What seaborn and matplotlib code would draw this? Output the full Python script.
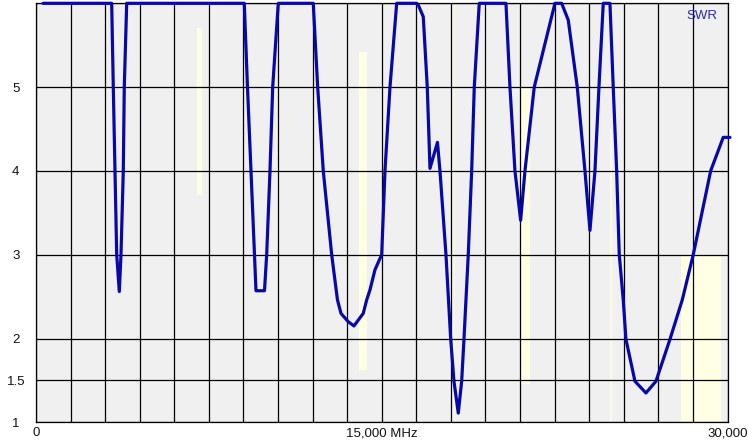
import numpy as np
import pandas as pd
import matplotlib
matplotlib.use('Agg')
import matplotlib.pyplot as plt
import seaborn as sns

# SWR sweep (kHz, SWR); values above 6 are pinned to the top
freq = [304, 3284, 3353, 3427, 3501, 3614, 3687, 3787, 3830, 3935,
        9036, 9175, 9327, 9479, 9544, 9913, 10008, 10151, 10268, 10511,
        12029, 12220, 12463, 12828, 13079, 13231, 13548, 13795, 14198, 14346,
        14489, 14706, 14997, 15140, 15357, 15648, 16515, 16584, 16801, 16975,
        17092, 17417, 17526, 17786, 17990, 18133, 18320, 18467, 18567, 18753,
        18901, 19014, 19230, 20389, 20562, 20779, 21026, 21213, 21616, 22514,
        22805, 23091, 23482, 23816, 24033, 24250, 24423, 24610, 24900, 25043,
        25191, 25304, 25477, 25594, 25985, 26462, 26896, 27503, 28037, 28514,
        29269, 29815, 30106]
swr = [6.0, 6.0, 5.0, 4.0, 3.0, 2.56, 3.0, 4.0, 5.0, 6.0,
       6.0, 5.0, 4.0, 3.0, 2.57, 2.57, 3.0, 4.0, 5.0, 6.0,
       6.0, 5.0, 4.0, 3.0, 2.46, 2.30, 2.20, 2.15, 2.30, 2.46,
       2.58, 2.82, 3.0, 4.0, 5.0, 6.0, 6.0, 5.98, 5.84, 5.0,
       4.03, 4.34, 4.0, 3.0, 2.0, 1.49, 1.11, 1.49, 1.99, 3.0,
       4.0, 5.0, 6.0, 6.0, 5.0, 4.0, 3.41, 4.0, 5.0, 6.0,
       6.0, 5.8, 5.0, 4.0, 3.29, 4.0, 5.0, 6.0, 6.0, 5.0,
       4.0, 3.0, 2.46, 1.99, 1.49, 1.35, 1.49, 1.99, 2.46, 3.0,
       4.0, 4.40, 4.40]

# ham band markers (kHz start/end, SWR low/high)
band_start = [7000, 14000, 18068, 21000, 24890, 28000]
band_end = [7200, 14350, 18168, 21450, 24990, 29700]
band_lo = [3.71, 1.62, 1.0, 1.46, 1.0, 1.0]
band_hi = [5.70, 5.42, 6.0, 4.99, 4.5, 3.0]
band_col = ['#ffffe4', '#ffffe4', '#f6f6e8', '#ffffe4', '#fbfbe6', '#ffffe4']

xticks = np.arange(0, 30001, 1500)
xlabels = {0: '0', 15000: '15,000 MHz', 30000: '30,000'}
yticks = [1, 1.5, 2, 3, 4, 5, 6]
ylabels = ['1', '1.5', '2', '3', '4', '5', '']

df = pd.DataFrame({'freq': freq, 'swr': swr})

sns.set_theme(style='white')
plt.rcParams['font.family'] = ['Liberation Sans', 'DejaVu Sans']

fig = plt.figure(figsize=(7.48, 4.43), dpi=100)
ax = fig.add_axes([36/748, 1-422.3/443, 691.5/748, 419/443])
ax.set_facecolor('#f0f0f0')

for s, e, lo, hi, c in zip(band_start, band_end, band_lo, band_hi, band_col):
    ax.fill_between([s, e], [lo, lo], [hi, hi], color=c, lw=0, zorder=1)

sns.lineplot(data=df, x='freq', y='swr', ax=ax, color='#0808a8', lw=2.3,
             zorder=3, clip_on=False)

ax.set_xlim(0, 30000)
ax.set_ylim(1, 6)
ax.set_xticks(xticks)
ax.set_xticklabels([xlabels.get(int(t), '') for t in xticks])
ax.set_yticks(yticks)
ax.set_yticklabels(ylabels)
ax.grid(True, color='black', lw=0.9, zorder=2)
ax.set_axisbelow(False)
for ln in ax.get_xgridlines() + ax.get_ygridlines():
    ln.set_zorder(2)
ax.tick_params(axis='both', length=0, labelsize=9.5, colors='#111111')
ax.tick_params(axis='x', pad=3.5)
ax.tick_params(axis='y', pad=14.5)
for lab in ax.get_yticklabels():
    lab.set_horizontalalignment('center')
for sp in ax.spines.values():
    sp.set_color('black')
    sp.set_linewidth(0.9)
ax.set_xlabel('')
ax.set_ylabel('')

ax.text(0.985, 0.970, 'SWR', transform=ax.transAxes, ha='right', va='center',
        fontsize=9.5, color='#2a2aa8')

plt.savefig('out.png', dpi=100)
